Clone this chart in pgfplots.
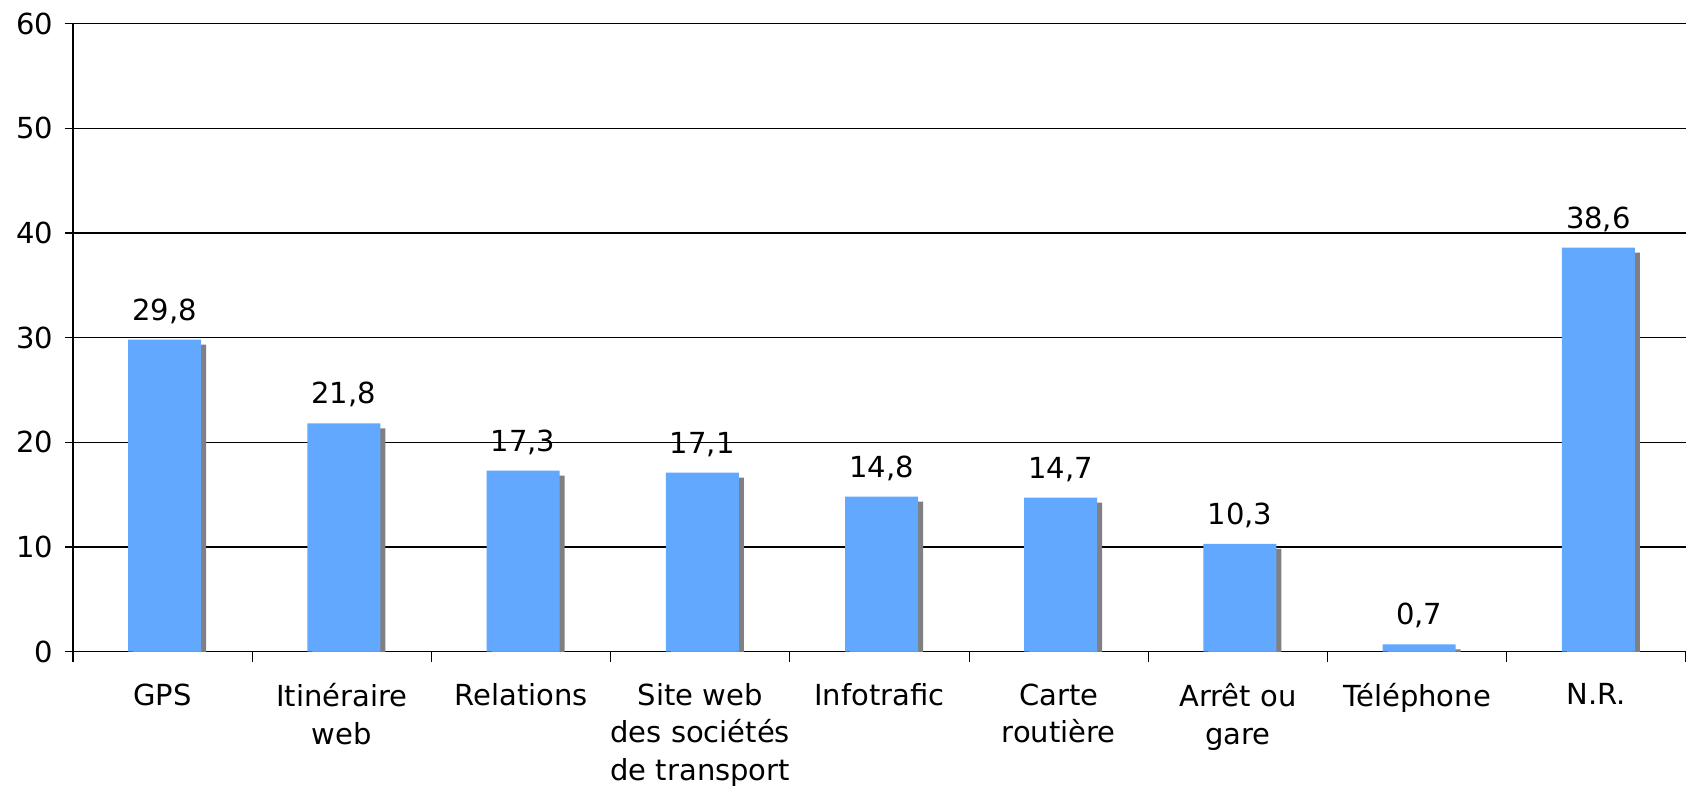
\documentclass[border=0pt]{standalone}
\usepackage{pgfplots}
\pgfplotsset{compat=1.18}
\usepackage{fontspec}
\setmainfont{DejaVu Sans}
\definecolor{barblue}{RGB}{99,168,255}
\definecolor{shadowgray}{RGB}{128,128,128}
\begin{document}
\fontsize{14.5pt}{19pt}\selectfont
\begin{tikzpicture}
\useasboundingbox (-36.5pt,-67.15pt) rectangle (806.5pt,325.8pt);
\begin{axis}[
  at={(0,0)}, anchor=south west,
  scale only axis,
  width=806.5pt, height=314pt,
  xmin=-0.5, xmax=8.5,
  ymin=0, ymax=60,
  ytick={0,10,...,60},
  xtick={0,...,8},
  xticklabels={GPS, Itinéraire\\web, Relations, Site web\\des sociétés\\de transport, Infotrafic, Carte\\routière, Arrêt ou\\gare, Téléphone, N.R.},
  minor xtick={-0.5,0.5,...,8.5},
  axis x line*=bottom,
  axis y line*=left,
  axis line style={line width=0.6pt, black},
  ymajorgrids,
  grid style={line width=0.6pt, black},
  major x tick style={draw=none},
  minor x tick style={line width=0.6pt, black},
  major y tick style={line width=0.6pt, black},
  tick align=outside,
  major tick length=4pt,
  minor tick length=5pt,
  xticklabel style={align=center, font=\fontsize{14.5pt}{18.6pt}\selectfont, yshift=-7pt},
  yticklabel style={font=\fontsize{14.5pt}{19pt}\selectfont, xshift=-1pt},
  /pgf/number format/assume math mode=true,
  ybar,
  bar width=36.5pt,
  clip=true,
]
\addplot[fill=shadowgray, draw=none, bar shift=3.5pt, yshift=-2.5pt] coordinates {
(0,29.8) (1,21.8) (2,17.3) (3,17.1) (4,14.8) (5,14.7) (6,10.3) (7,0.7) (8,38.6)};
\addplot[fill=barblue, draw=none, bar shift=1pt,
  nodes near coords,
  nodes near coords style={font=\fontsize{14.5pt}{19pt}\selectfont, yshift=3pt,
    /pgf/number format/.cd, fixed, fixed zerofill, precision=1, use comma, assume math mode=true},
] coordinates {
(0,29.8) (1,21.8) (2,17.3) (3,17.1) (4,14.8) (5,14.7) (6,10.3) (7,0.7) (8,38.6)};
\end{axis}
\end{tikzpicture}
\end{document}
